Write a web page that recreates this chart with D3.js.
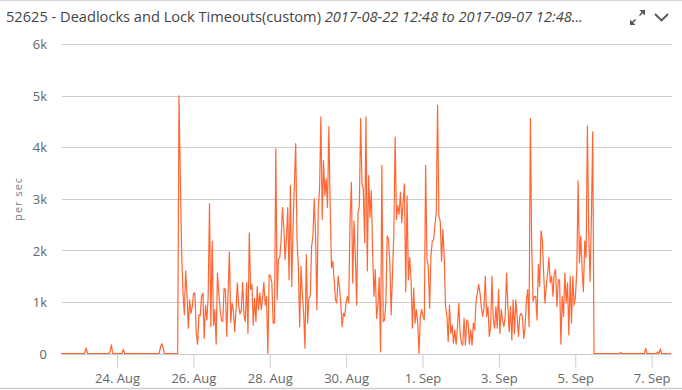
<!DOCTYPE html>
<html>
<head>
<meta charset="utf-8">
<script src="https://cdn.jsdelivr.net/npm/d3@7"></script>
<style>
  body { margin: 0; background: #fff; }
  svg { display: block; font-family: 'Open Sans', sans-serif; }
</style>
</head>
<body>
<div id="chart"></div>
<script>
const TITLE = '52625 - Deadlocks and Lock Timeouts(custom) '
const TITLE_RANGE = '2017-08-22 12:48 to 2017-09-07 12:48...'
const Y_LABEL = 'per sec'

const RANGE_START = new Date(2017, 7, 22, 12, 48)
const RANGE_END = new Date(2017, 8, 7, 12, 48)
const STEP_MINUTES = 50

const Y_TICKS = [0, 1000, 2000, 3000, 4000, 5000, 6000]
const X_TICKS = ['2017-08-24', '2017-08-26', '2017-08-28', '2017-08-30',
                 '2017-09-01', '2017-09-03', '2017-09-05', '2017-09-07']

// samples, one every 50 minutes from the start of the range
const quietStart = [
  0, 0, 0, 0, 0, 0, 0, 0, 0, 0, 0, 0, 0, 0, 0, 0, 0, 0, 20, 110,
  0, 0, 0, 0, 0, 0, 0, 0, 0, 0, 0, 0, 0, 0, 0, 0, 0, 30, 170, 0,
  0, 0, 0, 0, 0, 0, 0, 80, 0, 0, 0, 0, 0, 0, 0, 0, 0, 0, 0, 0,
  0, 0, 0, 0, 0, 0, 0, 0, 0, 0, 0, 0, 0, 0, 0, 120, 190, 120, 0, 0,
  0, 0, 0, 0, 0, 0, 0, 0, 0
]
const aug25to27 = [
  5000, 3390, 1950, 1170, 750, 1600, 1170, 490, 1040, 780,
  910, 1170, 1170, 390, 180, 750, 730, 1110, 1170, 290,
  940, 650, 1110, 2910, 520, 2180, 550, 850, 180, 1560,
  1170, 850, 650, 620, 1270, 1240, 330, 1170, 1970, 600,
  980, 830, 420, 850, 1370, 940, 770, 850, 1380, 750,
  620, 1370, 390, 2340
]
const aug27to29 = [
  1240, 1340, 550, 1070, 620, 1300, 850, 1170, 850, 1070,
  1380, 940, 1110, 0, 1530, 1500, 1370, 590, 590, 3970,
  1040, 1820, 1860, 2210, 2830, 2470, 1820, 2210, 2830, 1430,
  3260, 1300, 2470, 3260, 4070, 2210, 1690, 520, 1690, 1170,
  780, 100, 1920, 590, 1070, 1110, 2080, 2280, 3000, 2280,
  850, 2800, 3190, 4590, 2600
]
const aug29to31 = [
  3740, 3060, 3390, 2830, 4400, 2870, 1660, 1790, 1430, 1040,
  980, 1500, 1300, 980, 520, 780, 720, 980, 1110, 980,
  2600, 3320, 1370, 2570, 1890, 940, 2730, 2870, 4560, 3290,
  3190, 2150, 4590, 1600, 3450, 2640, 3160, 1990, 1110, 1630,
  680, 940, 1470, 30, 3650, 620, 650, 980, 2280, 2210,
  1760, 750, 1560, 2310
]
const aug31toSep2 = [
  4200, 2600, 2870, 2700, 3130, 2540, 2930, 3290, 1200, 3060,
  1430, 1860, 1430, 490, 1270, 590, 850, 590, 0, 720,
  850, 720, 650, 3650, 1820, 1690, 880, 1890, 2180, 2210,
  2470, 2730, 4820, 2670, 2570, 1790, 2410, 1890, 910, 750,
  230, 940, 390, 550, 200, 460, 180, 520, 980, 390,
  200, 160, 680, 160, 650
]
const sep2to4 = [
  620, 180, 460, 160, 590, 460, 1010, 1170, 1340, 1170,
  910, 720, 880, 1500, 720, 910, 330, 520, 1500, 650,
  490, 910, 490, 1240, 390, 850, 650, 520, 720, 1560,
  910, 420, 910, 260, 1040, 390, 1040, 720, 330, 720,
  780, 720, 290, 520, 1040, 1240, 520, 4560, 2050, 1010,
  1110, 1110, 650, 1730, 1300, 2380
]
const sep4to5 = [
  2210, 1560, 980, 1300, 1560, 1860, 1370, 1500, 1110, 1560,
  1630, 910, 1430, 1430, 180, 1110, 720, 1560, 980, 1370,
  360, 1500, 590, 1500, 940, 1110, 1630, 3350, 1760, 2280,
  1630, 1200, 2180, 1860, 4410, 2340, 1400, 2600, 4300, 0
]
const quietEnd = [
  0, 0, 0, 0, 0, 0, 0, 0, 0, 0, 0, 0, 0, 0, 0, 0, 0, 0, 0, 20,
  0, 0, 0, 0, 0, 0, 0, 0, 0, 0, 0, 0, 0, 0, 0, 0, 0, 0, 100, 0,
  0, 0, 0, 0, 0, 0, 0, 30, 0, 90, 0, 0, 0, 0, 0, 0, 0, 0
]

const WIDTH = 682
const HEIGHT = 390
const PLOT = { left: 61, right: 672, top: 44.2, bottom: 353.5 }
const LINE_COLOR = '#ff6633'
const GRID_COLOR = '#cccccc'
const TEXT_COLOR = '#666666'

const values = [].concat(quietStart, aug25to27, aug27to29, aug29to31,
                         aug31toSep2, sep2to4, sep4to5, quietEnd)
const series = values.map((v, i) => ({
  time: d3.timeMinute.offset(RANGE_START, i * STEP_MINUTES),
  value: v
}))

const parseDay = d3.timeParse('%Y-%m-%d')
const tickDates = X_TICKS.map(parseDay)

const svg = d3.select('#chart')
  .append('svg')
    .attr('width', WIDTH)
    .attr('height', HEIGHT)

// frame lines
svg.append('line')
  .attr('x1', 0).attr('x2', WIDTH).attr('y1', 0.5).attr('y2', 0.5)
  .attr('stroke', '#d4d4d4')
svg.append('line')
  .attr('x1', 0).attr('x2', WIDTH).attr('y1', 388.5).attr('y2', 388.5)
  .attr('stroke', '#cfcfcf').attr('stroke-width', 1.5)

// header
let title = svg.append('text')
  .attr('x', 6)
  .attr('y', 22)
  .attr('fill', '#444')
  .attr('font-size', 14)
title.append('tspan').text(TITLE)
title.append('tspan').attr('font-style', 'italic').text(TITLE_RANGE)

let tw = title.node().getComputedTextLength()
title.attr('font-size', 14 * 577 / tw)

let icons = svg.append('g')
  .attr('fill', 'none')
  .attr('stroke', '#555')
  .attr('stroke-width', 1.6)
icons.append('path').attr('d', 'M631.5 23.5L635.5 19.5M643.5 11.5L639.5 15.5')
icons.append('path').attr('fill', '#555').attr('stroke', 'none')
  .attr('d', 'M630 25L630 19.5L635.5 25Z M645 10L645 15.5L639.5 10Z')
icons.append('path').attr('stroke-width', 1.8)
  .attr('d', 'M655 14L661.5 20.5L668 14')

// scales
let x = d3.scaleTime()
  .domain([RANGE_START, RANGE_END])
  .range([PLOT.left, PLOT.right])

let y = d3.scaleLinear()
  .domain([0, 6000])
  .range([PLOT.bottom, PLOT.top])

// grid
svg.append('g')
    .attr('class', 'grid')
  .selectAll('line')
    .data(Y_TICKS)
  .enter().append('line')
    .attr('x1', PLOT.left + 1)
    .attr('x2', PLOT.right)
    .attr('y1', (d) => Math.round(y(d)) + 0.5)
    .attr('y2', (d) => Math.round(y(d)) + 0.5)
    .attr('stroke', GRID_COLOR)

// y axis labels
let yAxis = svg.append('g')
  .attr('transform', 'translate(' + (PLOT.left + 1) + ',0.5)')
  .call(d3.axisLeft(y)
    .tickValues(Y_TICKS)
    .tickSize(0)
    .tickPadding(15)
    .tickFormat((d) => d === 0 ? '0' : d3.format('~s')(d)))
yAxis.select('.domain').remove()
yAxis.selectAll('text')
  .attr('fill', TEXT_COLOR)
  .attr('font-size', 13)
  .attr('font-family', "'Open Sans', sans-serif")

svg.append('text')
  .attr('transform', 'translate(22,' + (PLOT.top + PLOT.bottom) / 2 + ') rotate(-90)')
  .attr('text-anchor', 'middle')
  .attr('fill', '#777')
  .attr('font-size', 11)
  .attr('letter-spacing', 1)
  .text(Y_LABEL)

// x axis
let xAxis = svg.append('g')
  .attr('transform', 'translate(0,' + (Math.round(PLOT.bottom) + 0.5) + ')')
  .call(d3.axisBottom(x)
    .tickValues(tickDates)
    .tickSize(13)
    .tickPadding(6)
    .tickFormat(d3.timeFormat('%-d. %b')))
xAxis.select('.domain').remove()
xAxis.selectAll('line').attr('stroke', GRID_COLOR)
xAxis.selectAll('text')
  .attr('fill', TEXT_COLOR)
  .attr('font-size', 13)
  .attr('font-family', "'Open Sans', sans-serif")

// series
let line = d3.line()
  .x((d) => x(d.time))
  .y((d) => y(d.value))

svg.append('path')
  .datum(series)
  .attr('fill', 'none')
  .attr('stroke', LINE_COLOR)
  .attr('stroke-width', 1.2)
  .attr('stroke-linejoin', 'round')
  .attr('d', line)
</script>
</body>
</html>
